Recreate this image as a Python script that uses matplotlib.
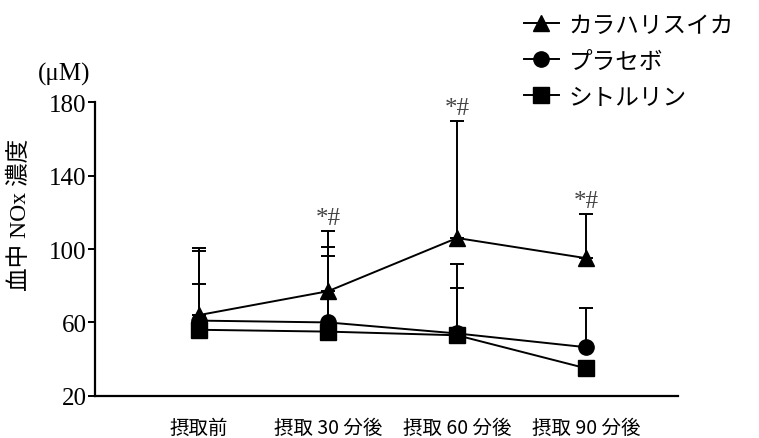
import matplotlib.pyplot as plt
from matplotlib.lines import Line2D

TIMES = ["摂取前", "摂取 30 分後", "摂取 60 分後", "摂取 90 分後"]
SERIES = ["カラハリスイカ", "プラセボ", "シトルリン"]
MARKERS = ["^", "o", "s"]
MEANS = [
    [64, 77, 106, 95],   # カラハリスイカ
    [61, 60, 54, 46.5],  # プラセボ
    [56, 55, 53, 35],    # シトルリン
]
UPPER = [
    [100.5, 110, 170, 119],
    [99, 101, 92, 68],
    [81, 96, 79, 35],
]
SIG_POS = [1, 2, 3]
SIG_Y = [111, 171, 120]

CJK = ["Noto Sans CJK JP", "DejaVu Sans"]
SERIF = ["Liberation Serif", "Noto Sans CJK JP"]

fig = plt.figure(figsize=(7.59, 4.39), dpi=100)
ax = fig.add_axes([0.125, 0.096, 0.768, 0.669])

x = list(range(len(TIMES)))
handles = []
for name, mk, m, up in zip(SERIES, MARKERS, MEANS, UPPER):
    err = [[0] * len(m), [u - v for u, v in zip(up, m)]]
    ax.errorbar(x, m, yerr=err, color="black", lw=1.4, marker=mk, ms=11,
                capsize=5, capthick=1.4, elinewidth=1.4, zorder=3)
    handles.append(Line2D([], [], color="black", lw=1.4, marker=mk, ms=11))

for xi, yi in zip(SIG_POS, SIG_Y):
    ax.text(xi, yi, "*#", ha="center", va="bottom", fontsize=18,
            family=SERIF, color="#444444")

ax.set_xlim(-0.806, 3.71)
ax.set_ylim(20, 180)
ax.set_yticks([20, 60, 100, 140, 180])
ax.set_xticks(x)
ax.set_xticklabels(TIMES, family=CJK, fontsize=14)
ax.tick_params(axis="x", length=0, pad=15)
ax.tick_params(axis="y", length=5, width=1.4, labelsize=18, pad=1)
for lbl in ax.get_yticklabels():
    lbl.set_family(SERIF)
ax.spines[["top", "right"]].set_visible(False)
ax.spines["left"].set_linewidth(1.6)
ax.spines["bottom"].set_linewidth(1.6)

ax.set_ylabel("血中 NOx 濃度", family=SERIF, fontsize=17)
ax.yaxis.set_label_coords(-0.11, 0.62)
fig.text(0.085, 0.83, "(μM)", family=SERIF, fontsize=18, ha="center", va="center")

fig.legend(handles, SERIES, loc="upper right", bbox_to_anchor=(0.995, 1.015),
           frameon=False, prop={"family": CJK, "size": 17},
           handlelength=1.5, handletextpad=0.4, labelspacing=0.55)

fig.savefig("out.png", dpi=100)
